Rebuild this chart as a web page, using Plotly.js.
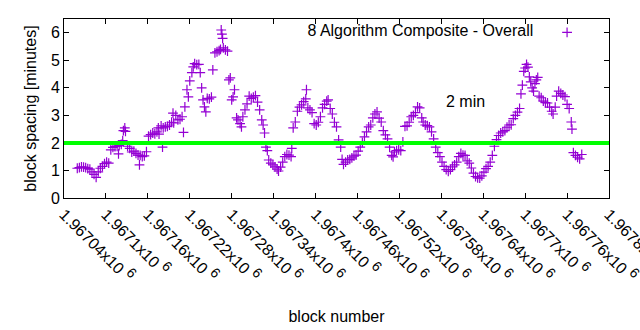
<!DOCTYPE html>
<html>
<head>
<meta charset="utf-8">
<script src="https://cdn.plot.ly/plotly-3.0.1.min.js"></script>
<style>html,body{margin:0;padding:0;background:#fff;}#chart{width:640px;height:330px;}</style>
</head>
<body>
<div id="chart"></div>
<script>
// ---- data ----
const blockNumber = [
  1967059,1967062,1967065,1967068,1967071,1967074,1967077,1967080,1967083,1967086,
  1967089,1967092,1967095,1967098,1967101,1967104,1967107,1967110,1967113,1967116,
  1967118,1967119,1967122,1967124,1967125,1967127,1967128,1967131,1967134,1967137,
  1967140,1967143,1967146,1967148,1967149,1967152,1967155,1967158,1967161,1967164,
  1967167,1967170,1967173,1967175,1967176,1967179,1967181,1967182,1967185,1967188,
  1967191,1967194,1967196,1967197,1967200,1967203,1967206,1967209,1967211,1967213,
  1967216,1967218,1967220,1967223,1967225,1967227,1967230,1967233,1967235,1967237,
  1967239,1967241,1967243,1967245,1967248,1967251,1967253,1967256,1967259,1967262,
  1967264,1967265,1967266,1967267,1967268,1967271,1967274,1967276,1967278,1967280,
  1967282,1967284,1967287,1967289,1967292,1967294,1967296,1967299,1967302,1967305,
  1967308,1967311,1967314,1967317,1967320,1967323,1967325,1967327,1967329,1967331,
  1967333,1967336,1967339,1967342,1967345,1967347,1967350,1967353,1967356,1967359,
  1967362,1967365,1967366,1967368,1967371,1967374,1967377,1967380,1967383,1967386,
  1967387,1967389,1967392,1967395,1967398,1967401,1967404,1967407,1967410,1967413,
  1967416,1967418,1967421,1967424,1967427,1967430,1967433,1967436,1967438,1967440,
  1967443,1967446,1967449,1967452,1967455,1967458,1967461,1967464,1967467,1967470,
  1967473,1967476,1967479,1967482,1967485,1967488,1967491,1967494,1967497,1967500,
  1967503,1967506,1967509,1967511,1967513,1967516,1967519,1967522,1967525,1967528,
  1967531,1967534,1967537,1967540,1967543,1967546,1967549,1967552,1967554,1967557,
  1967560,1967563,1967566,1967569,1967572,1967575,1967578,1967581,1967584,1967587,
  1967590,1967593,1967596,1967599,1967602,1967605,1967608,1967611,1967614,1967617,
  1967620,1967623,1967626,1967629,1967632,1967635,1967638,1967641,1967644,1967647,
  1967650,1967653,1967656,1967659,1967662,1967665,1967668,1967671,1967674,1967677,
  1967680,1967683,1967686,1967689,1967692,1967694,1967696,1967698,1967700,1967702,
  1967704,1967706,1967708,1967710,1967712,1967714,1967716,1967718,1967720,1967723,
  1967726,1967729,1967732,1967735,1967738,1967740,1967743,1967745,1967748,1967751,
  1967754,1967757,1967760,1967763,1967766,1967767,1967769,1967772,1967775,1967778,
  1967781
];
const spacingMinutes = [
  1.08,1.10,1.13,1.12,1.10,1.07,1.05,0.95,0.86,0.75,
  0.95,1.08,1.15,1.25,1.30,1.27,1.75,1.84,1.87,1.88,
  1.60,1.90,1.95,2.08,2.45,2.55,2.42,1.88,1.80,1.67,
  1.70,1.62,1.56,1.20,1.55,1.50,1.53,1.68,2.25,2.30,
  2.36,2.33,2.40,2.55,2.32,2.62,1.85,2.55,2.58,2.60,
  2.65,2.75,3.08,2.73,3.00,2.84,2.86,2.95,2.38,3.31,
  3.93,3.67,4.25,4.55,4.76,4.88,4.84,4.85,4.55,4.00,
  3.56,3.31,3.13,3.62,3.60,3.66,4.65,5.27,5.31,5.35,
  5.40,6.10,5.95,5.80,5.45,5.38,5.33,4.29,4.36,3.56,
  3.67,3.93,2.91,2.84,2.70,2.58,2.95,3.20,3.42,3.70,
  3.62,3.66,3.72,3.48,3.20,2.84,2.65,2.36,1.85,1.72,
  1.38,1.27,1.20,1.13,1.05,0.98,1.12,1.30,1.50,1.58,
  1.56,1.50,1.80,2.55,2.76,3.15,3.30,3.38,3.50,3.60,
  3.93,3.27,3.20,3.10,2.70,2.65,2.75,2.95,3.27,3.40,
  3.52,3.56,3.25,3.05,2.75,2.58,2.11,1.85,1.40,1.22,
  1.30,1.38,1.40,1.46,1.52,1.56,1.70,1.85,2.02,2.22,
  2.40,2.58,2.65,2.91,3.05,3.13,2.90,2.76,2.45,2.29,
  2.15,1.85,1.55,1.49,1.67,1.72,1.75,1.72,2.04,2.60,
  2.62,2.75,2.95,3.00,3.10,3.31,3.27,2.91,2.76,2.65,
  2.63,2.58,2.40,2.15,1.85,1.65,1.50,1.30,1.15,1.03,
  0.97,1.03,1.13,1.20,1.30,1.50,1.62,1.56,1.55,1.35,
  1.27,1.09,0.90,0.78,0.73,0.72,0.80,0.94,1.07,1.15,
  1.30,1.55,1.88,2.12,2.27,2.36,2.40,2.45,2.57,2.65,
  2.66,2.88,3.00,3.12,3.25,3.78,4.10,4.60,4.72,4.85,
  4.75,4.40,4.22,4.00,3.88,4.15,4.29,4.38,3.70,3.64,
  3.52,3.46,3.45,3.30,3.15,3.05,3.30,3.70,3.88,3.80,
  3.74,3.68,3.40,3.25,2.76,2.50,1.65,1.55,1.48,1.42,
  1.58
];
const seriesName = "8 Algorithm Composite - Overall";
const xTickValues = [1967040,1967100,1967160,1967220,1967280,1967340,1967400,1967460,1967520,1967580,1967640,1967700,1967760,1967820];
const xTickLabels = ["1.96704","1.9671","1.96716","1.96722","1.96728","1.96734","1.9674","1.96746","1.96752","1.96758","1.96764","1.9677","1.96776","1.96782"];
const yTickValues = [0,1,2,3,4,5,6];
const targetMinutes = 2;
const targetLabel = "2 min";
const targetLabelPos = {block: 1967614, minutes: 3.49};

const FONT = "Liberation Sans, Arial, sans-serif";
const purple = "#9400d3";

const traces = [{
  type: "scatter",
  mode: "markers",
  x: blockNumber,
  y: spacingMinutes,
  name: " ",
  showlegend: true,
  marker: {symbol: "cross-thin-open", size: 7, color: purple, line: {color: purple, width: 1.2}},
  hoverinfo: "x+y"
}];

const layout = {
  width: 640, height: 330,
  margin: {l: 64, r: 31, t: 19, b: 132},
  paper_bgcolor: "#fff", plot_bgcolor: "#fff",
  font: {family: FONT, size: 16, color: "#000"},
  showlegend: true,
  legend: {
    x: 0.443, xanchor: "left", y: 1.02, yanchor: "top",
    bgcolor: "rgba(0,0,0,0)", borderwidth: 0,
    title: {text: seriesName + "\u00a0\u200a", side: "left", font: {family: FONT, size: 16, color: "#000"}},
    font: {family: FONT, size: 16}
  },
  xaxis: {
    range: [1967040, 1967820],
    tickvals: xTickValues,
    ticktext: xTickLabels.map(t => t + "x10 <sup><span style='font-size:14px'>6</span></sup>"),
    tickangle: 45,
    ticklabeloverflow: "allow",
    ticks: "inside", ticklen: 5, tickcolor: "#000",
    mirror: "allticks", showline: true, linecolor: "#000", linewidth: 1,
    showgrid: false, zeroline: false,
    tickfont: {family: FONT, size: 16, color: "#000"},
    title: {text: "block number", font: {family: FONT, size: 16, color: "#000"}, standoff: 25},
    automargin: false
  },
  yaxis: {
    range: [0, 6.5],
    tickvals: yTickValues,
    ticks: "inside", ticklen: 5, tickcolor: "#000",
    mirror: "allticks", showline: true, linecolor: "#000", linewidth: 1,
    showgrid: false, zeroline: false,
    tickfont: {family: FONT, size: 16, color: "#000"},
    title: {text: "block spacing [minutes]", font: {family: FONT, size: 16, color: "#000"}, standoff: 10},
    automargin: false
  },
  shapes: [{
    type: "line", xref: "paper", x0: 0, x1: 1, yref: "y", y0: targetMinutes, y1: targetMinutes,
    line: {color: "#00ff00", width: 4}, layer: "above"
  }],
  annotations: [{
    x: targetLabelPos.block, y: targetLabelPos.minutes, xref: "x", yref: "y",
    text: targetLabel, showarrow: false, font: {family: FONT, size: 16, color: "#000"}
  }]
};

Plotly.newPlot("chart", traces, layout, {displayModeBar: false, staticPlot: true});
</script>
</body>
</html>
